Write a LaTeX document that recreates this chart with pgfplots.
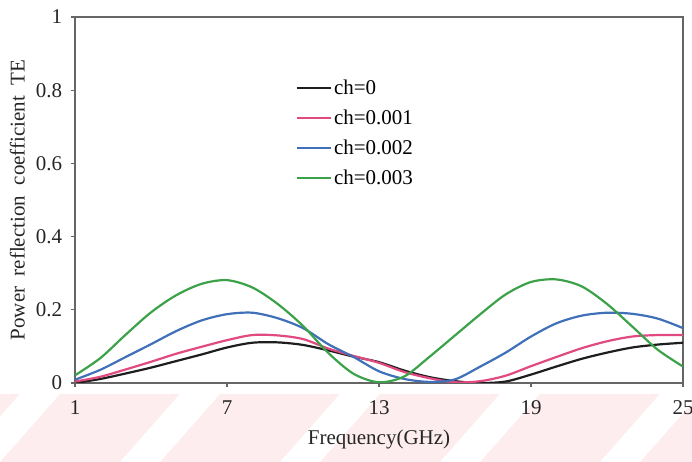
\documentclass[border=0pt]{standalone}
\usepackage{fontspec}
\setmainfont{Liberation Serif}
\usepackage{pgfplots}
\pgfplotsset{compat=1.18}
\usepackage{pgfplotstable}

\definecolor{cBlack}{HTML}{1E1E1E}
\definecolor{cPink}{HTML}{E04A80}
\definecolor{cBlue}{HTML}{3F70B8}
\definecolor{cGreen}{HTML}{3CA24A}
\definecolor{axisgray}{HTML}{666666}
\definecolor{stripepink}{HTML}{FEEDEF}

% Power reflection coefficient (TE) versus frequency for four values of ch
\pgfplotstableread{
f     ch0    ch1    ch2    ch3
1     0.000  0.004  0.009  0.021
2     0.011  0.017  0.036  0.068
3     0.026  0.037  0.071  0.132
4     0.042  0.058  0.106  0.193
5     0.060  0.080  0.142  0.240
6     0.078  0.099  0.171  0.271
7     0.097  0.117  0.188  0.281
8     0.110  0.131  0.192  0.261
9     0.111  0.130  0.177  0.216
10    0.104  0.120  0.150  0.156
11    0.089  0.094  0.106  0.082
12    0.072  0.074  0.071  0.025
13    0.057  0.055  0.032  0.002
14    0.034  0.030  0.011  0.018
15    0.016  0.013  0.003  0.072
16    0.005  0.002  0.010  0.130
17    0.000  0.005  0.045  0.188
18    0.004  0.020  0.083  0.242
19    0.023  0.046  0.127  0.276
20    0.045  0.071  0.163  0.283
21    0.066  0.095  0.184  0.264
22    0.083  0.114  0.192  0.216
23    0.097  0.127  0.189  0.154
24    0.105  0.131  0.176  0.091
25    0.110  0.131  0.150  0.045
}\reftable

\begin{document}
\begin{tikzpicture}
\path[use as bounding box] (0pt,0pt) rectangle (692pt,462pt);
% faint diagonal band along the bottom edge
\fill[stripepink] (0pt,0pt) rectangle (692pt,68pt);
\foreach \k in {-1,0,1,2,3,4} {
  \fill[white] ({\k*160pt+120pt},0pt) -- ({\k*160pt+160pt},0pt) -- ({\k*160pt+220pt},68pt) -- ({\k*160pt+180pt},68pt) -- cycle;
}
\begin{axis}[
  at={(75pt,79pt)}, anchor=south west,
  scale only axis, width=608pt, height=366pt,
  xmin=1, xmax=25, ymin=0, ymax=1,
  xtick={1,7,13,19,25},
  ytick={0,0.2,0.4,0.6,0.8,1},
  tick pos=left,
  tick align=outside,
  axis line style={axisgray, line width=1.2pt},
  tick style={axisgray, line width=1.2pt},
  /pgf/number format/assume math mode=true,
  ticklabel style={font=\fontsize{21}{25}\selectfont, text=black!85},
  xticklabel style={yshift=-10pt},
  yticklabel style={xshift=-5pt},
  xlabel={Frequency(GHz)},
  ylabel={Power\ \ reflection\ \ coefficient\ \ TE},
  label style={font=\fontsize{21}{25}\selectfont, text=black!85},
  xlabel style={at={(axis description cs:0.5,-0.155)}, anchor=center},
  ylabel style={at={(axis description cs:-0.095,0.5)}, anchor=center},
  legend style={at={(axis description cs:0.358,0.84)}, anchor=north west,
    draw=none, fill=none, font=\fontsize{21}{25}\selectfont,
    /tikz/every even column/.style={column sep=5pt},
    /tikz/row sep=10pt},
  legend cell align=left,
  legend image code/.code={\draw[#1] (0pt,0pt) -- (34pt,0pt);},
  every axis plot/.append style={line width=2.2pt, smooth, tension=0.5},
]
\addplot[cBlack] table[x=f, y=ch0] {\reftable};
\addlegendentry{ch=0}
\addplot[cPink] table[x=f, y=ch1] {\reftable};
\addlegendentry{ch=0.001}
\addplot[cBlue] table[x=f, y=ch2] {\reftable};
\addlegendentry{ch=0.002}
\addplot[cGreen] table[x=f, y=ch3] {\reftable};
\addlegendentry{ch=0.003}
\end{axis}
\end{tikzpicture}
\end{document}
